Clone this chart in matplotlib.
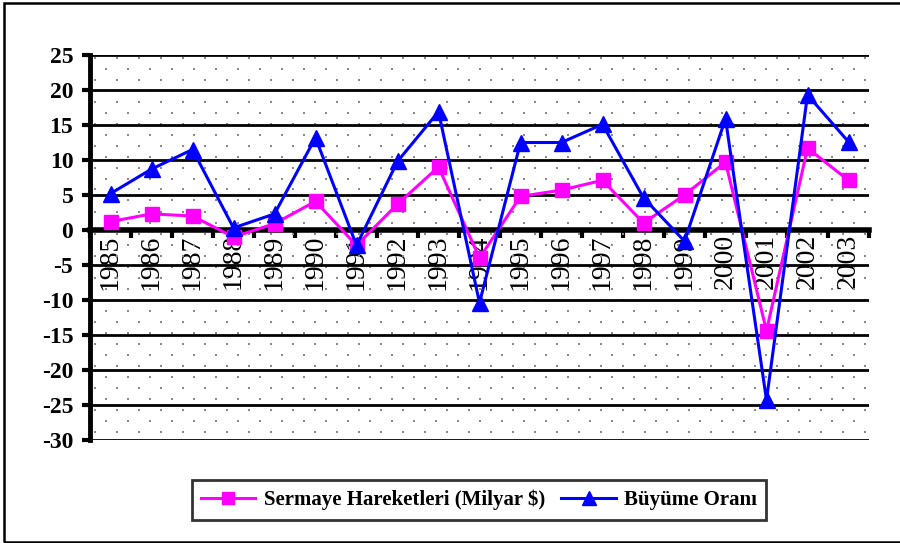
import numpy as np
import matplotlib
matplotlib.use("Agg")
import matplotlib.pyplot as plt
from matplotlib.patches import Rectangle
from matplotlib.ticker import FixedLocator, FixedFormatter, MultipleLocator

years = ["1985", "1986", "1987", "1988", "1989", "1990", "1991", "1992", "1993", "1994",
         "1995", "1996", "1997", "1998", "1999", "2000", "2001", "2002", "2003"]
sermaye = [1.2, 2.3, 2.0, -1.0, 0.9, 4.1, -2.2, 3.7, 9.0, -4.0,
           4.8, 5.7, 7.1, 1.0, 5.0, 9.7, -14.4, 11.7, 7.1]
buyume = [5.2, 8.7, 11.5, 0.3, 2.3, 13.2, -2.2, 9.8, 16.9, -10.4,
          12.5, 12.5, 15.1, 4.6, -1.6, 15.9, -24.3, 19.3, 12.6]
labels = ["Sermaye Hareketleri (Milyar $)", "Büyüme Oranı"]

plt.rcParams['font.family'] = ['Liberation Serif', 'DejaVu Serif']
plt.rcParams['axes.unicode_minus'] = False

fig = plt.figure(figsize=(9.0, 5.43), dpi=100)
ax = fig.add_axes([90/900, 1-440/543, (869-90)/900, (440-55)/543])

x = np.arange(len(years))
ymin, ymax = -30, 25

# dotted background pattern (decoration)
W, H = 779.0, 385.0
dx, dy = 22.0, 11.0
pts = []
r = 0
yy = H - 2.5
while yy > 0:
    off = 5.0 if r % 2 == 0 else 16.0
    xx = off
    while xx < W:
        pts.append((xx / W, yy / H))
        xx += dx
    yy -= dy
    r += 1
pts = np.array(pts)
ax.scatter(pts[:, 0], pts[:, 1], transform=ax.transAxes, marker='s', s=2.2,
           color='#8a8a8a', linewidths=0, zorder=0.5)

ax.set_xlim(-0.5, len(years) - 0.5)
ax.set_ylim(ymin, ymax)
ax.yaxis.set_major_locator(MultipleLocator(5))
ax.grid(axis='y', color='black', linewidth=2.0, zorder=1)
ax.set_axisbelow(True)

for s in ['top', 'right', 'bottom']:
    ax.spines[s].set_visible(False)
ax.spines['left'].set_linewidth(3.5)
ax.spines['left'].set_zorder(3)
ax.tick_params(axis='y', direction='out', length=6, width=3, pad=6,
               labelsize=17)
for t in ax.get_yticklabels():
    t.set_fontweight('bold')
ax.set_xticks([])

# zero axis with category ticks and year labels
sec = ax.secondary_xaxis((0 - ymin) / (ymax - ymin))
sec.set_alignment('bottom')
sec.spines['bottom'].set_linewidth(4)
sec.xaxis.set_major_locator(FixedLocator(np.arange(len(years) + 1) - 0.5))
sec.xaxis.set_major_formatter(FixedFormatter([''] * (len(years) + 1)))
sec.xaxis.set_minor_locator(FixedLocator(x))
sec.xaxis.set_minor_formatter(FixedFormatter(years))
sec.tick_params(axis='x', which='major', direction='out', length=6, width=3)
sec.tick_params(axis='x', which='minor', length=0, pad=3, labelsize=20,
                labelrotation=90)

ax.plot(x, sermaye, color='#ff00ff', linewidth=2.2, marker='s', markersize=10,
        markerfacecolor='#ff00ff', markeredgecolor='#ff00ff', label=labels[0],
        zorder=4, clip_on=False)
ax.plot(x, buyume, color='#0000ff', linewidth=2.2, marker='^', markersize=12,
        markerfacecolor='#0000ff', markeredgecolor='#0000ff', label=labels[1],
        zorder=5, clip_on=False)

leg = fig.legend(loc='center', bbox_to_anchor=(479/900, 1-500/543), ncol=2,
                 frameon=True, fancybox=False, edgecolor='black',
                 prop={'weight': 'bold', 'size': 15}, handlelength=2.6,
                 columnspacing=0.8, handletextpad=0.4, borderpad=0.45,
                 markerscale=0.85)
leg.get_frame().set_linewidth(2)

fig.patches.append(Rectangle((3.5/900, 1-541.5/543), 1.0, 539/543,
                             transform=fig.transFigure, fill=False,
                             edgecolor='black', linewidth=1.8))

fig.savefig('out.png', dpi=100)
